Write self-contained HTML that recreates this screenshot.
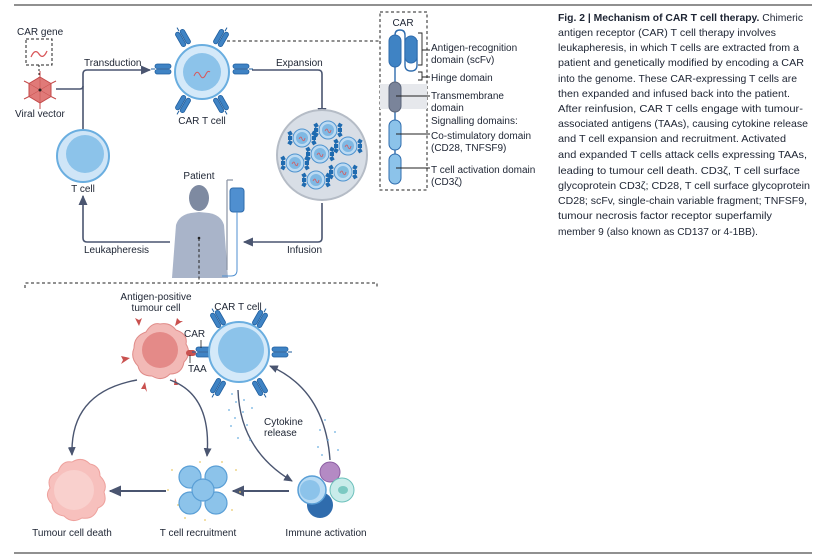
<!DOCTYPE html>
<html><head><meta charset="utf-8"><style>
html,body{margin:0;padding:0;background:#fff}
svg{display:block}
text{font-family:"Liberation Sans",sans-serif;fill:#1d2433}
.l{font-size:10px}
.c{font-size:10.3px}
</style></head><body>
<svg width="820" height="558" viewBox="0 0 820 558" xmlns="http://www.w3.org/2000/svg">
<defs>
<marker id="ar" viewBox="0 0 10 10" refX="8" refY="5" markerWidth="7" markerHeight="7" orient="auto-start-reverse"><path d="M0,1 L9,5 L0,9 z" fill="#4a5570"/></marker>
<g id="rec"><rect x="-8" y="-5" width="16" height="4.5" rx="2.2" fill="#3f83c4" stroke="#1f5e9e" stroke-width="0.8"/><rect x="-8" y="0.5" width="16" height="4.5" rx="2.2" fill="#3f83c4" stroke="#1f5e9e" stroke-width="0.8"/><path d="M-12,0 H-8" stroke="#1f5e9e"/></g>
<g id="mini"><circle r="9" fill="#bcdaf2" stroke="#4e93cf" stroke-width="1"/><circle r="6" fill="#7fb8e3"/><path d="M-3,1 q2,-4 3,0 q2,4 3,-1" stroke="#d9575a" fill="none" stroke-width="0.8"/>
<rect x="-14" y="-2" width="4" height="4" fill="#1f6bb0"/><rect x="10" y="-2" width="4" height="4" fill="#1f6bb0"/><rect x="-10" y="-12" width="4" height="4" fill="#1f6bb0" transform="rotate(-30)"/><rect x="6" y="-12" width="4" height="4" fill="#1f6bb0" transform="rotate(30)"/><rect x="-10" y="8" width="4" height="4" fill="#1f6bb0" transform="rotate(30)"/><rect x="6" y="8" width="4" height="4" fill="#1f6bb0" transform="rotate(-30)"/></g>
</defs>
<line x1="14" y1="5" x2="812" y2="5" stroke="#222" stroke-width="1"/>
<line x1="14" y1="553" x2="812" y2="553" stroke="#222" stroke-width="1"/>

<!-- CAR gene -->
<text class="l" x="17" y="35">CAR gene</text>
<rect x="26" y="39" width="26" height="26" fill="none" stroke="#222" stroke-dasharray="3,2"/>
<path d="M31,57 q4,-9 8,-3 q4,6 8,-3" stroke="#d9575a" fill="none" stroke-width="1.3"/>
<line x1="39" y1="65" x2="39" y2="78" stroke="#222" stroke-dasharray="2,2"/>
<g transform="translate(40,90)" stroke="#c44a4a" fill="#e07a78">
<polygon points="0,-13 11,-6.5 11,6.5 0,13 -11,6.5 -11,-6.5"/>
<path d="M0,-13 V-19 M11,-6.5 L16,-9 M11,6.5 L16,9 M0,13 V19 M-11,6.5 L-16,9 M-11,-6.5 L-16,-9" fill="none"/>
<path d="M0,-13 L0,13 M-11,-6.5 L11,6.5 M11,-6.5 L-11,6.5" fill="none" stroke-width="0.5"/>
</g>
<circle cx="40" cy="90" r="1.5" fill="#222"/>
<text class="l" x="15" y="117">Viral vector</text>

<g stroke="#4a5570" stroke-width="1.6" fill="none">
<path d="M56,89 H80 q3,0 3,-3"/>
<path d="M83,130 V74 q0,-4 4,-4 H150" marker-end="url(#ar)"/>
<path d="M252,70 H318 q4,0 4,4 V117" marker-end="url(#ar)"/>
<path d="M322,203 V238 q0,4 -4,4 H244" marker-end="url(#ar)"/>
<path d="M170,242 H87 q-4,0 -4,-4 V196" marker-end="url(#ar)"/>
</g>
<text class="l" x="84" y="66">Transduction</text>
<text class="l" x="276" y="66">Expansion</text>
<text class="l" x="287" y="253">Infusion</text>
<text class="l" x="84" y="253">Leukapheresis</text>

<circle cx="202" cy="72" r="27" fill="#d4e9f9" stroke="#6aaee0" stroke-width="2"/>
<circle cx="202" cy="72" r="19" fill="#8cc3ea"/>
<path d="M194,76 q3,-7 6,-1 q3,6 6,-1 q2,-4 4,-2" stroke="#d9575a" fill="none" stroke-width="1"/>
<use href="#rec" transform="translate(163,69)"/>
<use href="#rec" transform="translate(241,69) rotate(180)"/>
<use href="#rec" transform="translate(183,38) rotate(60)"/>
<use href="#rec" transform="translate(221,38) rotate(120)"/>
<use href="#rec" transform="translate(183,104) rotate(-60)"/>
<use href="#rec" transform="translate(221,104) rotate(-120)"/>
<text class="l" x="202" y="124" text-anchor="middle">CAR T cell</text>
<path d="M227,41 H380" stroke="#222" stroke-dasharray="3,2.5"/>

<circle cx="83" cy="156" r="26" fill="#cfe5f7" stroke="#6aaee0" stroke-width="2"/>
<circle cx="85" cy="154" r="19" fill="#8cc3ea"/>
<text class="l" x="83" y="192" text-anchor="middle">T cell</text>

<circle cx="322" cy="155" r="45" fill="#d8dee6" stroke="#b5bcc6" stroke-width="2"/>
<use href="#mini" transform="translate(302,138)"/>
<use href="#mini" transform="translate(328,130)"/>
<use href="#mini" transform="translate(348,146)"/>
<use href="#mini" transform="translate(320,154)"/>
<use href="#mini" transform="translate(295,163)"/>
<use href="#mini" transform="translate(343,172)"/>
<use href="#mini" transform="translate(316,180)"/>

<text class="l" x="199" y="179" text-anchor="middle">Patient</text>
<ellipse cx="199" cy="198" rx="10" ry="13" fill="#7e8aa1"/>
<path d="M172,278 L176,225 q3,-10 15,-12 L199,212 L209,213 q12,2 15,12 L228,278 z" fill="#a9b4c9"/>
<path d="M227,180 V270 M227,180 H233" stroke="#8a93a3" stroke-width="1.2" fill="none"/>
<rect x="230" y="188" width="14" height="24" rx="3" fill="#4f8fd0" stroke="#2f6cad"/>
<path d="M237,212 V270 q0,6 -6,6 H222" stroke="#4f8fd0" fill="none"/>
<circle cx="199" cy="238" r="1.3" fill="#222"/>
<path d="M199,238 V283" stroke="#222" stroke-dasharray="3,2.5"/>

<rect x="380" y="12" width="47" height="178" fill="none" stroke="#222" stroke-dasharray="3,2.5"/>
<text class="l" x="403" y="26" text-anchor="middle">CAR</text>
<rect x="380" y="84" width="47" height="25" fill="#e6e8ec"/>
<path d="M395,40 V35 q0,-5 5,-5 q5,0 5,5 V65 q0,6 6,6 q6,0 6,-6 V40" stroke="#2f6cad" fill="none" stroke-width="1.4"/>
<path d="M395,66 V184" stroke="#2f6cad" stroke-width="1.4"/>
<rect x="389" y="35" width="12" height="32" rx="6" fill="#3f83c4" stroke="#2f6cad"/>
<rect x="405" y="36" width="12" height="27" rx="6" fill="#3f83c4" stroke="#2f6cad"/>
<rect x="389" y="82" width="12" height="30" rx="6" fill="#7a849a" stroke="#5a6378"/>
<rect x="389" y="120" width="12" height="30" rx="6" fill="#8cc3ea" stroke="#2f6cad"/>
<rect x="389" y="154" width="12" height="30" rx="6" fill="#8cc3ea" stroke="#2f6cad"/>
<g stroke="#222" fill="none" stroke-width="0.9">
<path d="M418,33 H422 V65 H418 M422,50 H430"/>
<path d="M418,72 H422 V80 H418 M422,77 H430"/>
<path d="M396,96 H430 M396,134 H430 M396,168 H430"/>
</g>
<text class="l" x="431" y="51">Antigen-recognition</text>
<text class="l" x="431" y="63">domain (scFv)</text>
<text class="l" x="431" y="81">Hinge domain</text>
<text class="l" x="431" y="99">Transmembrane</text>
<text class="l" x="431" y="111">domain</text>
<text class="l" x="431" y="124">Signalling domains:</text>
<text class="l" x="431" y="139">Co-stimulatory domain</text>
<text class="l" x="431" y="151">(CD28, TNFSF9)</text>
<text class="l" x="431" y="173">T cell activation domain</text>
<text class="l" x="431" y="185">(CD3ζ)</text>

<text class="c" x="558" y="21" textLength="245" lengthAdjust="spacingAndGlyphs"><tspan font-weight="bold">Fig. 2 | Mechanism of CAR T cell therapy.</tspan> Chimeric</text>
<text class="c" x="558" y="36" textLength="218" lengthAdjust="spacingAndGlyphs">antigen receptor (CAR) T cell therapy involves</text>
<text class="c" x="558" y="51" textLength="241" lengthAdjust="spacingAndGlyphs">leukapheresis, in which T cells are extracted from a</text>
<text class="c" x="558" y="66" textLength="246" lengthAdjust="spacingAndGlyphs">patient and genetically modified by encoding a CAR</text>
<text class="c" x="558" y="82" textLength="239" lengthAdjust="spacingAndGlyphs">into the genome. These CAR-expressing T cells are</text>
<text class="c" x="558" y="97" textLength="232" lengthAdjust="spacingAndGlyphs">then expanded and infused back into the patient.</text>
<text class="c" x="558" y="112" textLength="245" lengthAdjust="spacingAndGlyphs">After reinfusion, CAR T cells engage with tumour-</text>
<text class="c" x="558" y="127" textLength="250" lengthAdjust="spacingAndGlyphs">associated antigens (TAAs), causing cytokine release</text>
<text class="c" x="558" y="142" textLength="228" lengthAdjust="spacingAndGlyphs">and T cell expansion and recruitment. Activated</text>
<text class="c" x="558" y="158" textLength="249" lengthAdjust="spacingAndGlyphs">and expanded T cells attack cells expressing TAAs,</text>
<text class="c" x="558" y="174" textLength="242" lengthAdjust="spacingAndGlyphs">leading to tumour cell death. CD3ζ, T cell surface</text>
<text class="c" x="558" y="189" textLength="252" lengthAdjust="spacingAndGlyphs">glycoprotein CD3ζ; CD28, T cell surface glycoprotein</text>
<text class="c" x="558" y="204" textLength="249" lengthAdjust="spacingAndGlyphs">CD28; scFv, single-chain variable fragment; TNFSF9,</text>
<text class="c" x="558" y="219" textLength="214" lengthAdjust="spacingAndGlyphs">tumour necrosis factor receptor superfamily</text>
<text class="c" x="558" y="235" textLength="200" lengthAdjust="spacingAndGlyphs">member 9 (also known as CD137 or 4-1BB).</text>

<!-- bottom section -->
<path d="M25,288 V283 H377 V288" stroke="#222" fill="none" stroke-dasharray="3,2.5"/>
<text class="l" x="156" y="300" text-anchor="middle">Antigen-positive</text>
<text class="l" x="156" y="311" text-anchor="middle">tumour cell</text>
<text class="l" x="238" y="310" text-anchor="middle">CAR T cell</text>

<g fill="#c9514f">
<path d="M139,326 l-4,-8 l4,2 l3,-2 z"/><path d="M175,326 l2,-8 l3,3 l3,0 z"/><path d="M130,358 l-9,-2 l2,4 l-2,4 z"/><path d="M145,382 l-4,7 l4,0 l2,3 z"/><path d="M175,378 l3,7 l-4,0 z"/>
</g>
<path d="M160,324 q10,-2 16,6 q12,4 10,14 q6,10 -2,18 q-2,12 -14,12 q-8,8 -18,2 q-12,0 -14,-10 q-8,-8 -4,-18 q0,-12 12,-16 q6,-10 14,-8 z" fill="#f2b9b6" stroke="#e08c89"/>
<circle cx="160" cy="350" r="18" fill="#e48a88"/>
<rect x="186" y="350" width="10" height="6" rx="3" fill="#c9514f"/>
<use href="#rec" transform="translate(204,352)"/>
<text class="l" x="184" y="337">CAR</text>
<text class="l" x="188" y="372">TAA</text>
<path d="M201,340 V348 M190,355 V363" stroke="#222" stroke-width="0.8"/>

<circle cx="239" cy="352" r="30" fill="#d4e9f9" stroke="#6aaee0" stroke-width="2"/>
<circle cx="241" cy="350" r="23" fill="#8cc3ea"/>
<use href="#rec" transform="translate(280,352) rotate(180)"/>
<use href="#rec" transform="translate(218,319) rotate(60)"/>
<use href="#rec" transform="translate(260,319) rotate(120)"/>
<use href="#rec" transform="translate(218,387) rotate(-60)"/>
<use href="#rec" transform="translate(260,387) rotate(-120)"/>

<g stroke="#4a5570" stroke-width="1.4" fill="none">
<path d="M137,380 Q70,392 72,455" marker-end="url(#ar)"/>
<path d="M170,380 Q212,395 207,456" marker-end="url(#ar)"/>
<path d="M238,390 Q240,450 292,481" marker-end="url(#ar)"/>
<path d="M330,460 Q325,390 270,366" marker-end="url(#ar)"/>
<path d="M289,491 H233" stroke-width="2" marker-end="url(#ar)"/>
<path d="M166,491 H110" stroke-width="2" marker-end="url(#ar)"/>
</g>
<g fill="#6aaee0">
<circle cx="232" cy="394" r="0.9"/><circle cx="236" cy="402" r="0.9"/><circle cx="229" cy="410" r="0.9"/><circle cx="235" cy="418" r="0.9"/><circle cx="231" cy="426" r="0.9"/><circle cx="243" cy="412" r="0.9"/><circle cx="247" cy="425" r="0.9"/><circle cx="238" cy="438" r="0.9"/><circle cx="250" cy="440" r="0.9"/><circle cx="252" cy="408" r="0.9"/><circle cx="325" cy="420" r="0.9"/><circle cx="320" cy="430" r="0.9"/><circle cx="328" cy="440" r="0.9"/><circle cx="318" cy="447" r="0.9"/><circle cx="335" cy="432" r="0.9"/><circle cx="322" cy="455" r="0.9"/><circle cx="338" cy="450" r="0.9"/><circle cx="244" cy="400" r="0.9"/>
</g>
<text class="l" x="264" y="425">Cytokine</text>
<text class="l" x="264" y="436">release</text>

<path d="M72,462 q10,-6 18,2 q10,2 10,12 q8,8 4,16 q4,12 -6,16 q-4,12 -16,10 q-10,6 -18,-2 q-12,-2 -12,-12 q-8,-8 -2,-16 q-4,-12 8,-16 q4,-12 14,-10 z" fill="#f7c0bd" stroke="#eea19d"/>
<circle cx="74" cy="490" r="20" fill="#f9d0cd"/>
<text class="l" x="72" y="536" text-anchor="middle">Tumour cell death</text>

<g fill="#e8c96a">
<circle cx="172" cy="470" r="0.9"/><circle cx="178" cy="505" r="0.9"/><circle cx="236" cy="470" r="0.9"/><circle cx="232" cy="510" r="0.9"/><circle cx="168" cy="490" r="0.9"/><circle cx="240" cy="492" r="0.9"/><circle cx="200" cy="462" r="0.9"/><circle cx="205" cy="520" r="0.9"/><circle cx="185" cy="518" r="0.9"/><circle cx="222" cy="462" r="0.9"/>
</g>
<g fill="#8cc3ea" stroke="#5a9fd6" stroke-width="1.2">
<circle cx="190" cy="477" r="11"/><circle cx="216" cy="477" r="11"/><circle cx="190" cy="503" r="11"/><circle cx="216" cy="503" r="11"/><circle cx="203" cy="490" r="11"/>
</g>
<text class="l" x="198" y="536" text-anchor="middle">T cell recruitment</text>

<circle cx="330" cy="472" r="10" fill="#b48ac4" stroke="#8c5fa3"/>
<circle cx="320" cy="505" r="13" fill="#2f6cad"/>
<circle cx="312" cy="490" r="14" fill="#b8dbf4" stroke="#5a9fd6" stroke-width="1.5"/>
<circle cx="310" cy="490" r="10" fill="#8cc3ea"/>
<circle cx="342" cy="490" r="12" fill="#c9ecea" stroke="#6cc0bb"/>
<ellipse cx="343" cy="490" rx="5" ry="4" fill="#7bc9c2"/>
<text class="l" x="326" y="536" text-anchor="middle">Immune activation</text>
</svg>
</body></html>
